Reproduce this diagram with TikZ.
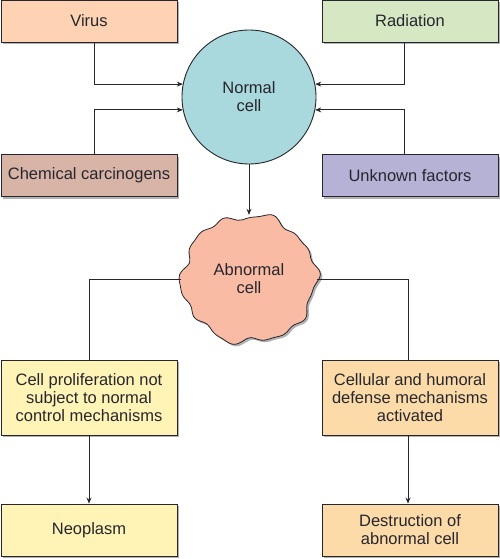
\documentclass[tikz,border=0pt]{standalone}
\usepackage{fontspec}
\setmainfont{Liberation Sans}
\usetikzlibrary{arrows.meta, shadows}
\definecolor{viruscol}{HTML}{FDD3B3}
\definecolor{radcol}{HTML}{D6E8C3}
\definecolor{normcol}{HTML}{A9D9DC}
\definecolor{chemcol}{HTML}{D8B4A7}
\definecolor{unkcol}{HTML}{B6B2D6}
\definecolor{abcol}{HTML}{F9BBA4}
\definecolor{prolcol}{HTML}{FFF4B5}
\definecolor{defcol}{HTML}{FDDBA9}
\definecolor{inkcol}{HTML}{26262E}

\begin{document}
\begin{tikzpicture}[x=1pt, y=-1pt,
    every node/.style={font=\fontsize{16.5}{18}\selectfont, text=inkcol},
    shade box/.style={drop shadow={shadow xshift=2pt, shadow yshift=-2pt, fill=black!30, opacity=1}},
    box/.style={draw=inkcol, line width=0.9pt, minimum width=176pt, inner sep=2pt, align=center, shade box},
    arr/.style={-{Stealth[length=6pt, width=5pt]}, line width=0.8pt, draw=inkcol},
    link/.style={line width=0.8pt, draw=inkcol}]
  \useasboundingbox (0,0) rectangle (500,559);
  % causes
  \node[box, fill=viruscol, minimum height=42pt] (virus) at (89,21) {Virus};
  \node[box, fill=radcol, minimum height=42pt] (radiation) at (410,21) {Radiation};
  \node[box, fill=chemcol, minimum height=42pt] (chem) at (89,175.5) {Chemical carcinogens};
  \node[box, fill=unkcol, minimum height=42pt] (unknown) at (410,175.5) {Unknown factors};
  \node[circle, draw=inkcol, line width=0.9pt, fill=normcol, minimum size=134pt, align=center] (normal) at (249,97) {Normal\\cell};
  % abnormal cell
  \draw[fill=abcol, line width=0.8pt, draw=inkcol, shade box]
    plot[smooth cycle, domain=0:356, samples=90, variable=\t]
    ({249+cos(\t)*(67+2*sin(6*\t+30)+2*sin(10*\t+75)+1.2*sin(17*\t))},
     {279-sin(\t)*(63+2*sin(6*\t+30)+2*sin(10*\t+75)+1.2*sin(17*\t))});
  \node[minimum width=136pt, minimum height=128pt, inner sep=0pt, align=center] (abnormal) at (249,279) {Abnormal\\cell};
  % outcomes
  \node[box, fill=prolcol, minimum height=75pt] (prolif) at (89,397.5) {Cell proliferation not\\subject to normal\\control mechanisms};
  \node[box, fill=defcol, minimum height=75pt] (defense) at (410,397.5) {Cellular and humoral\\defense mechanisms\\activated};
  \node[box, fill=prolcol, minimum height=52pt] (neoplasm) at (89,530) {Neoplasm};
  \node[box, fill=defcol, minimum height=52pt] (destruct) at (410,530) {Destruction of\\abnormal cell};
  % connectors
  \draw[arr] ([xshift=5pt]virus.south) |- (normal.169);
  \draw[arr] ([xshift=5pt]chem.north) |- (normal.191);
  \draw[arr] ([xshift=-6pt]radiation.south) |- (normal.11);
  \draw[arr] ([xshift=-6pt]unknown.north) |- (normal.349);
  \draw[arr] (normal.south) -- (abnormal.north);
  \draw[link] (abnormal.west) -| (prolif.north);
  \draw[link] (abnormal.east) -| ([xshift=-2pt]defense.north);
  \draw[arr] (prolif.south) -- (neoplasm.north);
  \draw[arr] ([xshift=-2pt]defense.south) -- ([xshift=-2pt]destruct.north);
\end{tikzpicture}
\end{document}
